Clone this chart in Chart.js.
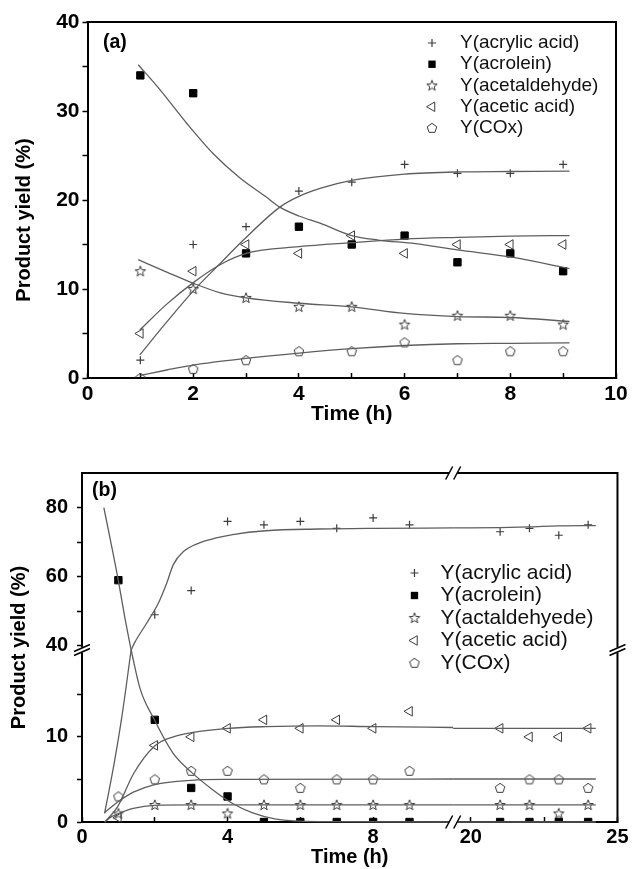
<!DOCTYPE html>
<html>
<head>
<meta charset="utf-8">
<script src="https://cdn.jsdelivr.net/npm/chart.js@4.4.1/dist/chart.umd.min.js"></script>
<style>
  html, body { margin: 0; padding: 0; background: #fff; }
  #wrapA { position: absolute; left: 0; top: 0; width: 637px; height: 440px; }
  #wrapB { position: absolute; left: 0; top: 440px; width: 637px; height: 429px; }
</style>
</head>
<body>
<div id="wrapA"><canvas id="chartA"></canvas></div>
<div id="wrapB"><canvas id="chartB"></canvas></div>
<script>
// ---- panel (a): measured yields ----
const timeA = [1, 2, 3, 4, 5, 6, 7, 8, 9];
const acrylicA = [2, 15, 17, 21, 22, 24, 23, 23, 24];
const acroleinA = [34, 32, 14, 17, 15, 16, 13, 14, 12];
const acetaldA = [12, 10, 9, 8, 8, 6, 7, 7, 6];
const aceticA = [5, 12, 15, 14, 16, 14, 15, 15, 15];
const coxA = [0, 1, 2, 3, 3, 4, 2, 3, 3];

// ---- panel (a): fitted curves, [time, yield] ----
const acrylicFitA = [[0.99, 2.6], [1.5, 6.3], [2.02, 9.9], [2.5, 12.8], [2.95, 15.5], [3.64, 19.2], [4, 20.4], [4.4, 21.3], [5, 22.2], [6, 22.9], [7, 23.15], [8, 23.2], [9.12, 23.25]];
const acroleinFitA = [[0.96, 35.2], [1.37, 32.4], [1.88, 28.6], [2.38, 25.2], [2.88, 22.5], [3.39, 20.3], [3.64, 19.2], [4, 18.2], [4.4, 17.4], [5, 16.0], [5.5, 15.5], [6.2, 15.1], [7, 14.4], [8, 13.6], [9.12, 12.3]];
const acetaldFitA = [[0.96, 13.3], [1.5, 11.9], [2.02, 10.6], [2.5, 9.6], [3, 9.0], [4, 8.4], [5, 8.0], [6, 7.25], [7, 6.9], [8, 6.8], [9.12, 6.35]];
const aceticFitA = [[0.99, 5.4], [1.5, 8.3], [2.02, 10.8], [2.5, 12.7], [3, 14.0], [4, 14.75], [5, 15.2], [6, 15.6], [7, 15.8], [8, 15.95], [9.12, 16.0]];
const coxFitA = [[1, 0.3], [1.5, 0.9], [2, 1.45], [3, 2.2], [4, 2.8], [5, 3.3], [6, 3.65], [7, 3.85], [8, 3.9], [9.12, 3.95]];

// ---- panel (b): measured yields ----
const timeB = [1, 2, 3, 4, 5, 6, 7, 8, 9, 21, 22, 23, 24];
const acrylicB = [null, 49, 56, 76, 75, 76, 74, 77, 75, 73, 74, 72, 75];
const acroleinB = [59, 12, 4, 3, 0, 0, 0, 0, 0, 0, 0, 0, 0];
const acetaldB = [1, 2, 2, 1, 2, 2, 2, 2, 2, 2, 2, 1, 2];
const aceticB = [0.5, 9, 10, 11, 12, 11, 12, 11, 13, 11, 10, 10, 11];
const coxB = [3, 5, 6, 6, 5, 4, 5, 5, 6, 4, 5, 5, 4];

// ---- panel (b): fitted curves, [time, yield] ----
const acrylicFitB = [[0.62, 1.0], [0.88, 6.8], [1.1, 12.5], [1.35, 20.2], [1.35, 38.8], [1.45, 41], [1.78, 46.6], [2.1, 52.4], [2.33, 58.2], [2.51, 63.5], [2.78, 67.2], [3.23, 69.8], [3.69, 71.2], [4.14, 72.2], [5.05, 73.3], [6.49, 73.8], [8, 74], [10.2, 74.1], [19.4, 74.1], [21, 74.2], [22, 74.4], [23, 74.7], [24.26, 74.8]];
const acroleinFitB = [[0.6, 80], [0.8, 69.6], [1.0, 58.8], [1.17, 48.6], [1.35, 38.8], [1.35, 20.2], [1.6, 15.6], [1.99, 12.0], [2.5, 8.1], [3.02, 5.8], [3.59, 3.8], [4.13, 2.2], [4.67, 1.1], [5.33, 0.35], [6.49, 0.05], [10.2, 0], [19.4, 0], [24.26, 0]];
const acetaldFitB = [[0.62, 0], [0.8, 0.6], [1.0, 1.0], [1.41, 1.6], [2, 1.95], [3, 2.0], [10.2, 2.0], [19.4, 2.0], [24.26, 2.0]];
const aceticFitB = [[0.63, 0], [0.98, 1.8], [1.42, 5.7], [1.99, 8.9], [2.51, 10.0], [3.02, 10.5], [4.02, 11.0], [5.05, 11.2], [6.49, 11.3], [8, 11.2], [10.2, 11.1], [19.4, 11.0], [24.26, 11.0]];
const coxFitB = [[0.62, 1.1], [1.0, 2.4], [1.41, 3.5], [2, 4.4], [3, 4.9], [4, 5.0], [10.2, 5.05], [19.4, 5.05], [24.26, 5.05]];

const namesA = ['Y(acrylic acid)', 'Y(acrolein)', 'Y(acetaldehyde)', 'Y(acetic acid)', 'Y(COx)'];
const namesB = ['Y(acrylic acid)', 'Y(acrolein)', 'Y(actaldehyede)', 'Y(acetic acid)', 'Y(COx)'];

// broken axes of panel (b)
const X_LEFT_MAX = 10.2, X_RIGHT_MIN = 19.4;
const Y_LOW_MAX = 20.2, Y_HIGH_MIN = 38.8;

const FONT = "'Liberation Sans', Arial, Helvetica, sans-serif";

// outline markers that Chart.js has no built-in style for
function outlineImage(n, rOut, rIn) {
  const c = document.createElement('canvas');
  c.width = c.height = 14;
  const g = c.getContext('2d');
  g.strokeStyle = '#3c3c3c';
  g.lineWidth = 1;
  g.beginPath();
  const count = rIn ? n * 2 : n;
  for (let i = 0; i < count; i++) {
    const r = rIn && i % 2 ? rIn : rOut;
    const ang = -Math.PI / 2 + i * 2 * Math.PI / count;
    const x = 7 + r * Math.cos(ang), y = 7.3 + r * Math.sin(ang);
    if (i) g.lineTo(x, y); else g.moveTo(x, y);
  }
  g.closePath();
  g.stroke();
  return c;
}
const starImg = outlineImage(5, 5.5, 2.3);
const pentImg = outlineImage(5, 5, 0);

const markers = [
  { pointStyle: 'cross', radius: 4, rotation: 0, border: '#3c3c3c', fill: 'rgba(0,0,0,0)', width: 1.2 },
  { pointStyle: 'rect', radius: 5.2, rotation: 0, border: '#000', fill: '#000', width: 1 },
  { pointStyle: starImg, radius: 5, rotation: 0, border: '#3c3c3c', fill: 'rgba(0,0,0,0)', width: 1 },
  { pointStyle: 'triangle', radius: 5.5, rotation: -90, border: '#3c3c3c', fill: 'rgba(0,0,0,0)', width: 1 },
  { pointStyle: pentImg, radius: 5, rotation: 0, border: '#3c3c3c', fill: 'rgba(0,0,0,0)', width: 1 }
];

function curveSet(data, xId, yId) {
  return {
    data, xAxisID: xId, yAxisID: yId, showLine: true, pointRadius: 0,
    borderColor: '#5e5e5e', borderWidth: 1.3, cubicInterpolationMode: 'monotone', fill: false, clip: 3
  };
}
function pointSet(data, m, xId, yId) {
  return {
    data, xAxisID: xId, yAxisID: yId, showLine: false,
    pointStyle: m.pointStyle, pointRadius: m.radius, pointRotation: m.rotation,
    pointBorderColor: m.border, pointBackgroundColor: m.fill, pointBorderWidth: m.width,
    clip: { left: 10, top: 10, right: 10, bottom: 0 }
  };
}
const toPts = (t, v) => t.map((x, i) => ({ x, y: v[i] })).filter(p => p.y !== null);
const pairs = arr => arr.map(([x, y]) => ({ x, y }));

// panel (b): route every point to the axis pair of its piece of the broken plot
function pieceOf(p) {
  return [p.x <= X_LEFT_MAX ? 'xL' : 'xR', p.y <= Y_LOW_MAX ? 'yLow' : 'yHigh'];
}
function splitRuns(pts) {
  const runs = [];
  let cur = null;
  pts.forEach(p => {
    const key = pieceOf(p).join('|');
    if (!cur || cur.key !== key) { cur = { key, data: [] }; runs.push(cur); }
    cur.data.push(p);
  });
  return runs;
}

// legend marker for the in-plot legends
function drawMarker(ctx, m, x, y) {
  ctx.save();
  ctx.strokeStyle = m.border;
  ctx.fillStyle = m.fill;
  ctx.lineWidth = m.width;
  const r = m.radius;
  if (typeof m.pointStyle !== 'string') {
    ctx.drawImage(m.pointStyle, x - m.pointStyle.width / 2, y - m.pointStyle.height / 2);
  } else if (m.pointStyle === 'cross') {
    ctx.beginPath();
    ctx.moveTo(x - r, y); ctx.lineTo(x + r, y);
    ctx.moveTo(x, y - r); ctx.lineTo(x, y + r);
    ctx.stroke();
  } else if (m.pointStyle === 'rect') {
    const s = r * Math.SQRT1_2;
    ctx.fillRect(x - s, y - s, 2 * s, 2 * s);
  } else if (m.pointStyle === 'triangle') {
    ctx.beginPath();
    ctx.moveTo(x - r, y);
    ctx.lineTo(x + r / 2, y - r * 0.866);
    ctx.lineTo(x + r / 2, y + r * 0.866);
    ctx.closePath();
    ctx.stroke();
  }
  ctx.restore();
}

function breakOnH(ctx, x, y) {
  ctx.fillStyle = '#fff';
  ctx.fillRect(x - 4, y - 2, 8, 4);
  ctx.beginPath();
  ctx.moveTo(x - 7.5, y + 6.5); ctx.lineTo(x - 0.5, y - 6.5);
  ctx.moveTo(x + 0.5, y + 6.5); ctx.lineTo(x + 7.5, y - 6.5);
  ctx.stroke();
}
function breakOnV(ctx, x, y) {
  ctx.fillStyle = '#fff';
  ctx.fillRect(x - 2, y - 2.5, 4, 5);
  ctx.beginPath();
  ctx.moveTo(x - 8, y + 1.5); ctx.lineTo(x + 8, y - 5.5);
  ctx.moveTo(x - 8, y + 5.5); ctx.lineTo(x + 8, y - 1.5);
  ctx.stroke();
}

function decor(o) {
  return {
    id: 'decor',
    afterDraw(chart) {
      const { ctx, chartArea: a } = chart;
      ctx.save();
      ctx.strokeStyle = '#000';
      ctx.lineWidth = 2;
      ctx.beginPath();
      ctx.moveTo(a.left - 1, a.top);
      ctx.lineTo(a.right, a.top);
      ctx.lineTo(a.right, a.bottom + 1);
      ctx.stroke();

      ctx.fillStyle = '#000';
      ctx.textAlign = 'left';
      ctx.textBaseline = 'middle';
      ctx.font = 'bold 19.5px ' + FONT;
      ctx.fillText(o.tag, a.left + o.tagDx, a.top + o.tagDy);

      ctx.font = o.legendSize + 'px ' + FONT;
      o.names.forEach((name, i) => {
        const y = a.top + o.legendTop + i * o.legendStep;
        drawMarker(ctx, markers[i], a.right - o.markerDx, y);
        ctx.fillStyle = '#111';
        ctx.fillText(name, a.right - o.textDx, y);
      });

      if (o.breaks) {
        ctx.strokeStyle = '#000';
        ctx.lineWidth = 1.5;
        o.breaks(chart, ctx);
      }
      ctx.restore();
    }
  };
}

const border = { display: true, color: '#000', width: 2 };
const hidden = { ticks: { display: false }, grid: { display: false }, border: { display: false } };

function valueAxis(axis, position, min, max, step, fontSize, label, hideTick, extra) {
  const inward = axis === 'x';
  return Object.assign({
    type: 'linear', axis, position, min, max,
    ticks: {
      stepSize: step, autoSkip: false, maxRotation: 0, includeBounds: false,
      padding: inward ? 8.4 : 3, color: '#000',
      font: { family: FONT, size: fontSize, weight: 'bold' },
      callback: v => (label(v) ? v : '')
    },
    grid: {
      drawOnChartArea: false, drawTicks: true, tickLength: inward ? -5 : 5, tickWidth: 1.5,
      tickColor: c => (c.tick && hideTick(c.tick.value) ? 'rgba(0,0,0,0)' : '#000')
    },
    border
  }, extra);
}

// ---------------- chart (a) ----------------
const datasetsA = [];
[acrylicFitA, acroleinFitA, acetaldFitA, aceticFitA, coxFitA].forEach(f => datasetsA.push(curveSet(pairs(f), 'x', 'y')));
[acrylicA, acroleinA, acetaldA, aceticA, coxA].forEach((vals, i) => datasetsA.push(pointSet(toPts(timeA, vals), markers[i], 'x', 'y')));

new Chart(document.getElementById('chartA'), {
  type: 'scatter',
  data: { datasets: datasetsA },
  options: {
    responsive: true, maintainAspectRatio: false, animation: false, events: [],
    layout: { padding: { top: 22, right: 21, left: 0, bottom: 0 } },
    plugins: { legend: { display: false }, tooltip: { enabled: false } },
    scales: {
      x: valueAxis('x', 'bottom', 0, 10, 1, 21, v => v % 2 === 0, () => false, {
        title: { display: true, text: 'Time (h)', color: '#000', font: { family: FONT, size: 21, weight: 'bold' }, padding: { top: 0, bottom: 13 } },
        afterFit: s => { s.height = 62; }
      }),
      y: valueAxis('y', 'left', 0, 40, 5, 21, v => v % 10 === 0, () => false, {
        afterFit: s => { s.width = 51.5; }
      }),
      yTitleA: Object.assign({ type: 'linear', axis: 'y', position: 'left', min: 0, max: 1, weight: 1, stack: 'ttl', stackWeight: 316 }, hidden, {
        title: { display: true, text: 'Product yield (%)', color: '#000', font: { family: FONT, size: 20, weight: 'bold' }, padding: { top: 12, bottom: 0 } },
        afterFit: s => { s.width = 36; }
      }),
      ySpacerA: Object.assign({ type: 'linear', axis: 'y', position: 'left', min: 0, max: 1, weight: 1, stack: 'ttl', stackWeight: 40 }, hidden, {
        afterFit: s => { s.width = 36; }
      })
    }
  },
  plugins: [decor({
    tag: '(a)', tagDx: 15.5, tagDy: 21, names: namesA, legendSize: 19,
    legendTop: 21, legendStep: 21.25, markerDx: 184, textDx: 156
  })]
});

// ---------------- chart (b) ----------------
const datasetsB = [];
[acrylicFitB, acroleinFitB, acetaldFitB, aceticFitB, coxFitB].forEach(f => {
  splitRuns(pairs(f)).forEach(run => {
    const [xId, yId] = run.key.split('|');
    datasetsB.push(curveSet(run.data, xId, yId));
  });
});
[acrylicB, acroleinB, acetaldB, aceticB, coxB].forEach((vals, i) => {
  const groups = {};
  toPts(timeB, vals).forEach(p => {
    const key = pieceOf(p).join('|');
    (groups[key] = groups[key] || []).push(p);
  });
  Object.keys(groups).forEach(key => {
    const [xId, yId] = key.split('|');
    datasetsB.push(pointSet(groups[key], markers[i], xId, yId));
  });
});

new Chart(document.getElementById('chartB'), {
  type: 'scatter',
  data: { datasets: datasetsB },
  options: {
    responsive: true, maintainAspectRatio: false, animation: false, events: [],
    layout: { padding: { top: 33, right: 15, left: 0, bottom: 0 } },
    plugins: { legend: { display: false }, tooltip: { enabled: false } },
    scales: {
      xL: valueAxis('x', 'bottom', 0, X_LEFT_MAX, 2, 20, v => v % 4 === 0, v => v >= 10, {
        stack: 'bx', stackWeight: 375, afterFit: s => { s.height = 26; }
      }),
      xR: valueAxis('x', 'bottom', X_RIGHT_MIN, 25, 2.5, 20, v => v % 5 === 0, () => false, {
        stack: 'bx', stackWeight: 166, afterFit: s => { s.height = 26; }
      }),
      xTitle: Object.assign({ type: 'linear', axis: 'x', position: 'bottom', min: 0, max: 1, weight: 1 }, hidden, {
        title: { display: true, text: 'Time (h)', color: '#000', font: { family: FONT, size: 20, weight: 'bold' }, padding: { top: 0, bottom: 0 } },
        afterFit: s => { s.height = 21; }
      }),
      yLow: valueAxis('y', 'left', 0, Y_LOW_MAX, 5, 20, v => v === 0 || v === 10, v => v >= 20, {
        stack: 'ly', stackWeight: 172, afterFit: s => { s.width = 48; },
        ticks: {
          stepSize: 5, autoSkip: false, includeBounds: false, padding: 9, color: '#000',
          font: { family: FONT, size: 20, weight: 'bold' },
          callback: v => (v === 0 || v === 10 ? v : '')
        }
      }),
      yHigh: valueAxis('y', 'left', Y_HIGH_MIN, 90, 10, 20, v => v === 40 || v === 60 || v === 80, v => v >= 90, {
        stack: 'ly', stackWeight: 177, afterFit: s => { s.width = 48; },
        ticks: {
          stepSize: 10, autoSkip: false, includeBounds: false, padding: 9, color: '#000',
          font: { family: FONT, size: 20, weight: 'bold' },
          callback: v => (v === 40 || v === 60 || v === 80 ? v : '')
        }
      }),
      yTitle: Object.assign({ type: 'linear', axis: 'y', position: 'left', min: 0, max: 1, weight: 1 }, hidden, {
        title: { display: true, text: 'Product yield (%)', color: '#000', font: { family: FONT, size: 20, weight: 'bold' }, padding: { top: 7.5, bottom: 0 } },
        afterFit: s => { s.width = 34; }
      })
    }
  },
  plugins: [decor({
    tag: '(b)', tagDx: 10, tagDy: 18, names: namesB, legendSize: 21,
    legendTop: 100, legendStep: 22.5, markerDx: 203, textDx: 177,
    breaks(chart, ctx) {
      const a = chart.chartArea;
      const xb = chart.scales.xR.left;
      const yb = chart.scales.yHigh.bottom;
      breakOnH(ctx, xb, a.bottom);
      breakOnH(ctx, xb, a.top);
      breakOnV(ctx, a.left, yb);
      breakOnV(ctx, a.right, yb);
    }
  })]
});
</script>
</body>
</html>
